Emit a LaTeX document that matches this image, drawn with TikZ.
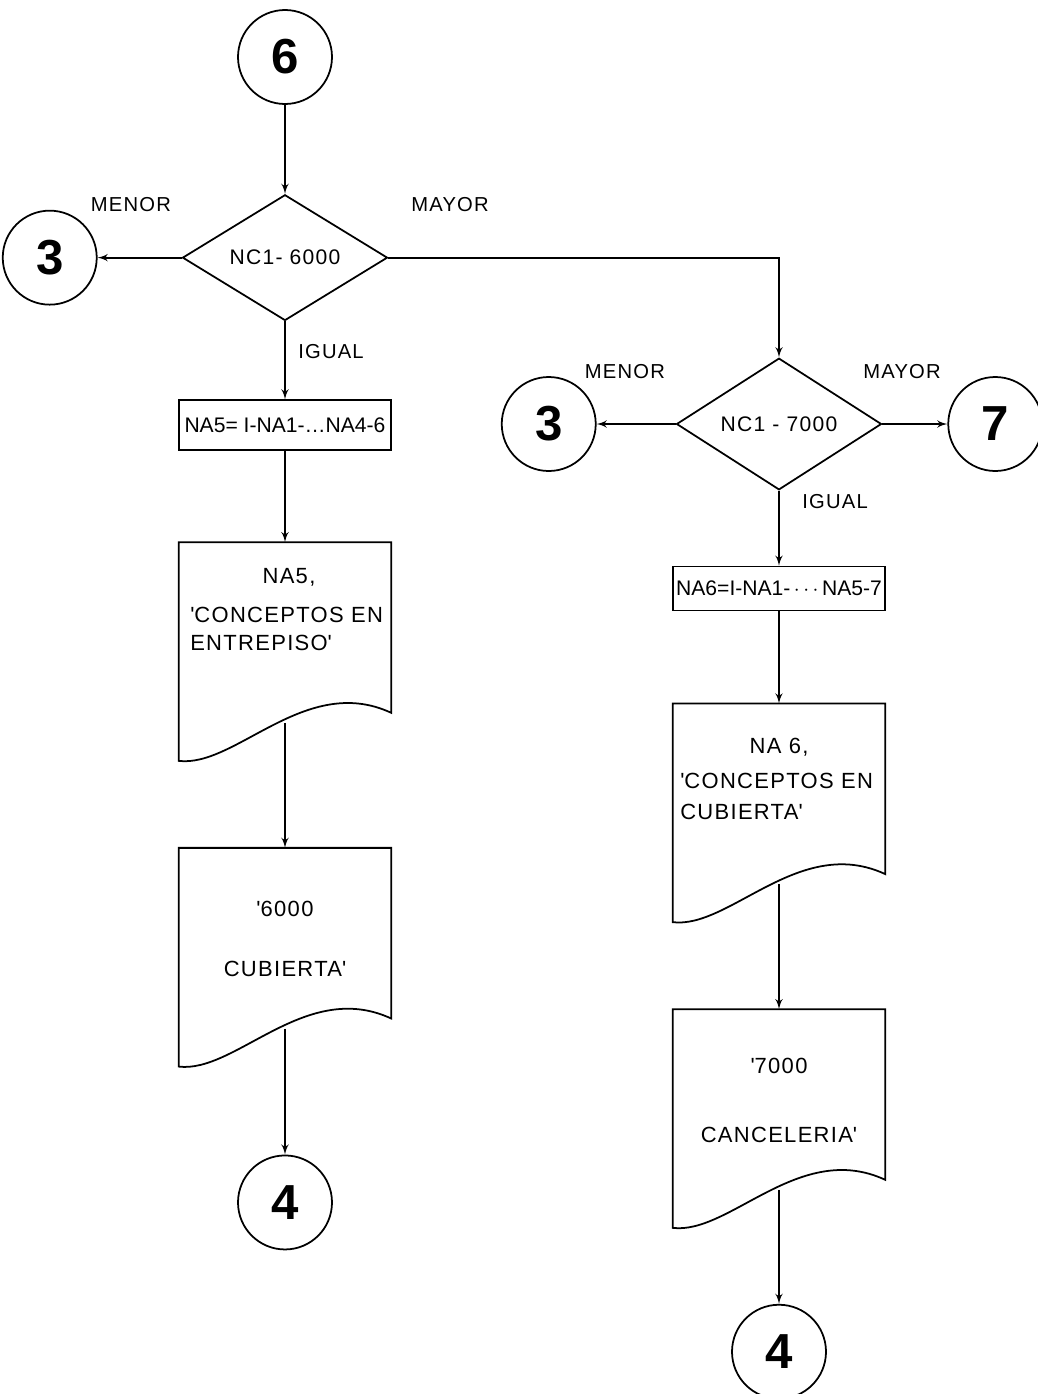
\documentclass[tikz,border=0pt]{standalone}
\usepackage{fontspec}
\setmainfont{Liberation Sans}
\newfontfamily\letterfont{Liberation Sans}[LetterSpace=6]
\usetikzlibrary{arrows,positioning,shapes.geometric}

\begin{document}
\begin{tikzpicture}[node distance=1cm,auto]
    \tikzset{
      circlenode/.style={circle,draw=black,line width=1pt,inner sep=0em,minimum size=1.88cm,font=\fontsize{28}{30}\selectfont\bfseries},
      decisionnode/.style={diamond,draw=black,line width=1pt,inner sep=0em,minimum width=4.1cm,minimum height=2.5cm,font=\letterfont\fontsize{12}{14}\selectfont},
      rectnode/.style={rectangle,draw=black,line width=1pt,inner sep=0em,minimum width=4.24cm,text centered,font=\fontsize{12}{14}\selectfont},
      docnode/.style={rectangle,inner sep=0em,minimum width=4.24cm,minimum height=4.36cm},
      doctext/.style={anchor=north,inner sep=0em,text width=3.95cm,align=left,font=\letterfont\fontsize{12.5}{16}\selectfont},
      arrowlabel/.style={inner sep=0em,font=\letterfont\fontsize{11.5}{13}\selectfont},
      arrow/.style={->,>=latex',line width=1pt}
    }
    \useasboundingbox (0,0) rectangle (20.74,-27.88);
    % left branch
    \node[circlenode](six) at (5.7,-1.14){6};
    \node[decisionnode,below=1.78cm of six](compare6000){NC1- 6000};
    \node[circlenode,left=1.68cm of compare6000](threeleft){3};
    \node[rectnode,minimum height=1cm,below=1.56cm of compare6000](assign5){NA5= I-NA1-\ldots NA4-6};
    \node[docnode,below=1.82cm of assign5](print5){};
    \node[docnode,below=1.74cm of print5](heading6000){};
    \node[circlenode,below=1.76cm of heading6000](fourleft){4};
    % right branch
    \node[decisionnode](compare7000) at (15.58,-8.48){NC1 - 7000};
    \node[circlenode,left=1.58cm of compare7000](threeright){3};
    \node[circlenode,right=1.3cm of compare7000](seven){7};
    \node[rectnode,minimum height=0.88cm,below=1.5cm of compare7000](assign6){NA6=I-NA1-\,$\cdots$\,NA5-7};
    \node[docnode,below=1.84cm of assign6](print6){};
    \node[docnode,below=1.74cm of print6](heading7000){};
    \node[circlenode,below=1.52cm of heading7000](fourright){4};

    % document outlines
    \foreach \d in {print5,heading6000,print6,heading7000}
      \draw[line width=1pt] (\d.south west) -- (\d.north west) -- (\d.north east) -- ([yshift=0.96cm]\d.south east)
        .. controls ([shift={(2.54cm,1.76cm)}]\d.south west) and ([shift={(1.14cm,-0.14cm)}]\d.south west) .. cycle;

    \node[doctext](print5text) at ([xshift=0.08cm,yshift=-0.52cm]print5.north){\makebox[\hsize]{NA5,}\\[6pt]\textquotesingle CONCEPTOS EN\\ENTREPISO\textquotesingle};
    \node[doctext,align=center](heading6000text) at ([yshift=-1.06cm]heading6000.north){\textquotesingle 6000\\[18pt]CUBIERTA\textquotesingle};
    \node[doctext](print6text) at ([yshift=-0.68cm]print6.north){\makebox[\hsize]{NA 6,}\\[4pt]\textquotesingle CONCEPTOS EN\\[2pt]CUBIERTA\textquotesingle};
    \node[doctext,align=center](heading7000text) at ([yshift=-0.98cm]heading7000.north){\textquotesingle 7000\\[23pt]CANCELERIA\textquotesingle};

    % branch labels
    \node[arrowlabel](menorleft) at (2.62,-4.10){MENOR};
    \node[arrowlabel](mayorleft) at (9.0,-4.10){MAYOR};
    \node[arrowlabel](igualleft) at (6.62,-7.04){IGUAL};
    \node[arrowlabel](menorright) at (12.5,-7.44){MENOR};
    \node[arrowlabel](mayorright) at (18.04,-7.44){MAYOR};
    \node[arrowlabel](igualright) at (16.7,-10.04){IGUAL};

    \draw[arrow](six) -- (compare6000);
    \draw[arrow](compare6000.west) -- (threeleft);
    \draw[arrow](compare6000.east) -| (compare7000.north);
    \draw[arrow](compare6000.south) -- (assign5);
    \draw[arrow](assign5) -- (print5);
    \draw[arrow]([yshift=0.76cm]print5.south) -- (heading6000);
    \draw[arrow]([yshift=0.76cm]heading6000.south) -- (fourleft);
    \draw[arrow](compare7000.west) -- (threeright);
    \draw[arrow](compare7000.east) -- (seven);
    \draw[arrow](compare7000.south) -- (assign6);
    \draw[arrow](assign6) -- (print6);
    \draw[arrow]([yshift=0.76cm]print6.south) -- (heading7000);
    \draw[arrow]([yshift=0.76cm]heading7000.south) -- (fourright);
  \end{tikzpicture}
\end{document}
